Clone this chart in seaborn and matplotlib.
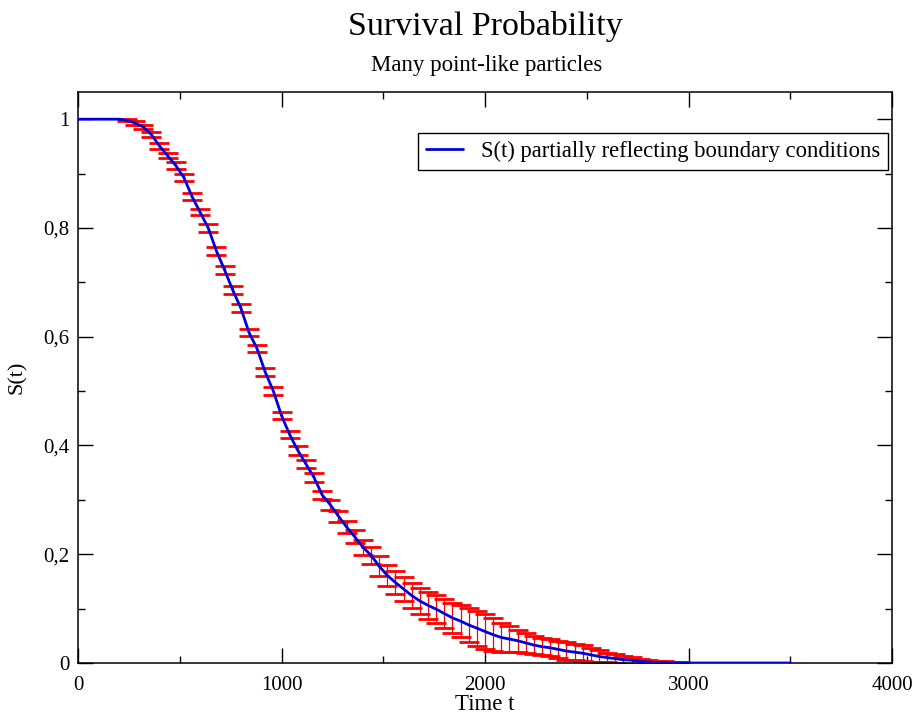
import matplotlib
matplotlib.use("Agg")
import matplotlib.pyplot as plt
import seaborn as sns
import pandas as pd
import numpy as np
from matplotlib.ticker import MultipleLocator

# ---- data ----
t_line = [0, 40, 80, 120, 160, 200, 240, 280, 320, 360, 400, 440, 480, 520, 560, 600,
          640, 680, 720, 760, 800, 840, 880, 920, 960, 1000, 1040, 1080, 1120, 1160,
          1200, 1240, 1280, 1320, 1360, 1400, 1440, 1480, 1520, 1560, 1600, 1640,
          1680, 1720, 1760, 1800, 1840, 1880, 1920, 1960, 2000, 2040, 2080, 2120,
          2160, 2200, 2240, 2280, 2320, 2360, 2400, 2440, 2480, 2520, 2560, 2600,
          2640, 2680, 2720, 2760, 2800, 2840, 2880, 2920, 2960, 3000, 3100, 3200,
          3300, 3400, 3500]
S_line = [1.0, 1.0, 1.0, 1.0, 1.0, 1.0, 0.998, 0.993, 0.986, 0.972, 0.951, 0.933,
          0.915, 0.893, 0.858, 0.829, 0.800, 0.758, 0.723, 0.686, 0.653, 0.608,
          0.578, 0.535, 0.500, 0.455, 0.420, 0.391, 0.366, 0.341, 0.309, 0.291,
          0.270, 0.250, 0.232, 0.213, 0.198, 0.178, 0.161, 0.148, 0.136, 0.124,
          0.114, 0.106, 0.099, 0.091, 0.083, 0.077, 0.070, 0.064, 0.058, 0.052,
          0.047, 0.044, 0.041, 0.037, 0.033, 0.030, 0.028, 0.025, 0.022, 0.020,
          0.018, 0.015, 0.012, 0.010, 0.008, 0.006, 0.005, 0.003, 0.002, 0.001,
          0.001, 0.0, 0.0, 0.0, 0.0, 0.0, 0.0, 0.0, 0.0]

t_err = [240, 280, 320, 360, 400, 440, 480, 520, 560, 600, 640, 680, 720, 760, 800,
         840, 880, 920, 960, 1000, 1040, 1080, 1120, 1160, 1200, 1240, 1280, 1320,
         1360, 1400, 1440, 1480, 1520, 1560, 1600, 1640, 1680, 1720, 1760, 1800,
         1840, 1880, 1920, 1960, 2000, 2040, 2080, 2120, 2160, 2200, 2240, 2280,
         2320, 2360, 2400, 2440, 2480, 2520, 2560, 2600, 2640, 2680, 2720, 2760,
         2800, 2840, 2880, 2920, 2960]
S_err_mean = [0.998, 0.993, 0.986, 0.972, 0.951, 0.933, 0.915, 0.893, 0.858, 0.829,
              0.800, 0.758, 0.723, 0.686, 0.653, 0.608, 0.578, 0.535, 0.500, 0.455,
              0.420, 0.391, 0.366, 0.341, 0.309, 0.291, 0.270, 0.250, 0.232, 0.213,
              0.198, 0.178, 0.161, 0.148, 0.136, 0.124, 0.114, 0.106, 0.099, 0.091,
              0.083, 0.077, 0.070, 0.064, 0.058, 0.052, 0.047, 0.044, 0.041, 0.037,
              0.033, 0.030, 0.028, 0.025, 0.022, 0.020, 0.018, 0.015, 0.012, 0.010,
              0.008, 0.006, 0.005, 0.003, 0.002, 0.001, 0.001, 0.0, 0.0]
S_err = [0.002, 0.003, 0.004, 0.005, 0.005, 0.005, 0.006, 0.006, 0.006, 0.006,
         0.007, 0.007, 0.007, 0.007, 0.007, 0.007, 0.007, 0.007, 0.007, 0.007,
         0.007, 0.008, 0.008, 0.008, 0.008, 0.009, 0.010, 0.011, 0.012, 0.014,
         0.016, 0.018, 0.020, 0.021, 0.022, 0.023, 0.024, 0.025, 0.026, 0.027,
         0.028, 0.030, 0.031, 0.032, 0.032, 0.030, 0.027, 0.024, 0.020, 0.018,
         0.017, 0.016, 0.016, 0.016, 0.016, 0.015, 0.015, 0.013, 0.011, 0.008,
         0.008, 0.007, 0.006, 0.005, 0.004, 0.003, 0.003, 0.002, 0.001]

x_ticks = [0, 1000, 2000, 3000, 4000]
x_tick_labels = ["0", "1000", "2000", "3000", "4000"]
y_ticks = [0, 0.2, 0.4, 0.6, 0.8, 1.0]
y_tick_labels = ["0", "0,2", "0,4", "0,6", "0,8", "1"]

title = "Survival Probability"
subtitle = "Many point-like particles"
series_label = "S(t) partially reflecting boundary conditions"

# ---- plotting ----
sns.set_theme(style="ticks")
plt.rcParams["font.family"] = ["Liberation Serif", "DejaVu Serif"]
plt.rcParams["text.color"] = "black"
plt.rcParams["axes.labelcolor"] = "black"

fig = plt.figure(figsize=(9.21, 7.19), dpi=100)
ax = fig.add_axes([78 / 921, 1 - 663 / 719, (892 - 78) / 921, (663 - 92) / 719])

df_line = pd.DataFrame({"t": t_line, "S": S_line})
df_err = pd.DataFrame({"t": t_err, "S": S_err_mean, "err": S_err})

ax.errorbar(df_err["t"], df_err["S"], yerr=df_err["err"], fmt="none",
            ecolor="#ff0000", elinewidth=0.9, capsize=7, capthick=2.0, zorder=2)
sns.lineplot(data=df_line, x="t", y="S", ax=ax, color="#0000dd", linewidth=2.0,
             label=series_label, zorder=3)

ax.set_xlim(0, 4000)
ax.set_ylim(0, 1.05)
ax.set_xticks(x_ticks)
ax.set_xticklabels(x_tick_labels)
ax.set_yticks(y_ticks)
ax.set_yticklabels(y_tick_labels)
ax.xaxis.set_minor_locator(MultipleLocator(500))
ax.yaxis.set_minor_locator(MultipleLocator(0.1))
ax.tick_params(which="both", direction="in", top=True, right=True,
               colors="black", labelsize=15, width=1.0)
ax.tick_params(which="major", length=11)
ax.tick_params(axis="x", which="major", pad=9)
ax.tick_params(axis="y", which="major", pad=6)
ax.tick_params(which="minor", length=5)
for s in ax.spines.values():
    s.set_visible(True)
    s.set_color("black")
    s.set_linewidth(1.1)

ax.set_xlabel("Time t", fontsize=16.5, labelpad=0)
ax.set_ylabel("S(t)", fontsize=16, labelpad=12)

fig.text(485 / 921, 1 - 27 / 719, title, ha="center", va="center", fontsize=24.5)
fig.text(487 / 921, 1 - 66 / 719, subtitle, ha="center", va="center", fontsize=16.5)

leg = ax.legend(loc="upper right", bbox_to_anchor=(0.995, 0.928), borderaxespad=0,
                fontsize=16.3, frameon=True, fancybox=False, edgecolor="black",
                framealpha=1, handlelength=1.6, handletextpad=0.8, borderpad=0.35)
leg.get_frame().set_linewidth(1.0)

fig.savefig("out.png", dpi=100)
